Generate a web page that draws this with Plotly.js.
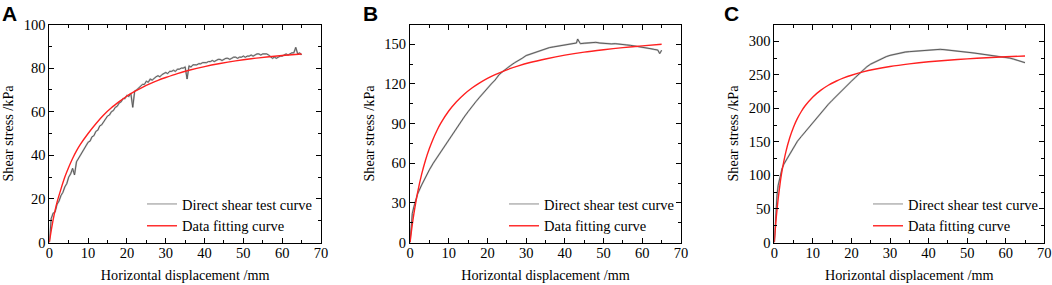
<!DOCTYPE html>
<html>
<head>
<meta charset="utf-8">
<script src="https://cdn.plot.ly/plotly-3.0.1.min.js"></script>
<style>html,body{margin:0;padding:0;background:#fff;}#chart{width:1052px;height:285px;}</style>
</head>
<body>
<div id="chart"></div>
<script>
// ---------- Panel A (test curve) ----------
const xA_test = [0,0.5,1,1.5,2,2.5,3,3.5,4,4.5,5,5.5,6,6.5,7,7.5,8,8.5,9,9.5,10,10.5,11,11.5,12,12.5,13,13.5,14,14.5,15,15.5,16,16.5,17,17.5,18,18.5,19,19.5,20,20.5,21,21.5,22,22.5,23,23.5,24,24.5,25,25.5,26,26.5,27,27.5,28,28.5,29,29.5,30,30.5,31,31.5,32,32.5,33,33.5,34,34.5,35,35.5,36,36.5,37,37.5,38,38.5,39,39.5,40,40.5,41,41.5,42,42.5,43,43.5,44,44.5,45,45.5,46,46.5,47,47.5,48,48.5,49,49.5,50,50.5,51,51.5,52,52.5,53,53.5,54,54.5,55,55.5,56,56.5,57,57.5,58,58.5,59,59.5,60,60.5,61,61.5,62,62.5,63,63.5,64,64.5,65];
const yA_test = [0,11,13.5,14,17.5,19,21.5,23,25.5,27,30,31.5,34,31,37,38.5,40,41.5,43,44,46,46.5,48.5,49,51,51.5,53.5,54,55.5,56.5,58,58.5,60,60.5,62,62.5,64,64.5,66,66,67.5,67,68.5,62,69.5,70,71,71.5,72.5,72.5,74,73.5,75,74.5,75.5,76,76.5,76,77,77.5,78,77.5,78.5,78.5,79,78.5,79.5,79.5,80,80,80.5,75,81,80.5,81.5,81.5,81.5,82,82,82.5,82.5,82.5,83,83,83.5,83,83.5,84,84,83.5,84,84.5,84.5,84,84.5,85,85,84.5,85,85,85.5,85,85.5,85.5,86,85.5,86,86.5,86.5,86,86.5,86.5,86.5,86,85,84.5,85,84.5,85,85.5,85.5,86,86.5,86,86.5,87,87,89.5,86.5,87,86];
// Panel A fitting curve
const xA_fit = [0,0.5,1,2,3,4,5,6,7,8,10,12,14,16,18,20,22,24,26,28,30,33,36,40,44,48,52,56,60,65];
const yA_fit = [0,5.5,10.5,18.5,24.5,30,34.5,38.5,42,45,50,54.5,58.5,61.8,64.6,67.2,69.3,71.2,72.9,74.4,75.7,77.5,79,80.7,82.1,83.3,84.3,85.1,85.8,86.5];

// ---------- Panel B ----------
const xB_test = [0,0.3,0.6,1,1.5,2,3,4,5,6,7,8,9,10,11,12,13,14,15,16,17,18,19,20,21,22,23,24,25,26,27,28,29,30,31,32,33,34,35,36,37,38,39,40,41,42,43,43.3,44,45,46,47,48,49,50,51,52,53,54,55,56,57,58,59,60,61,62,63,64,64.5,65];
const yB_test = [0,15,22,27,32,37,43.5,49.5,55,60,64.5,69,73.5,78,82,86.5,90.5,95,99,103,106.5,110,113.5,117,120,123,127,129.5,132,134,136,137.5,139.5,141.5,142.5,144,145,146,146.5,147.5,148,148.5,149,149.5,150,150.5,151,154,150.5,150.8,151,151.3,151.5,151,150.7,150.5,150.3,150.5,150,149.8,149.5,149.2,148.8,148.3,147.8,147.3,146.8,146.2,145.7,143,145.5];
const xB_fit = [0,0.5,1,2,3,4,5,6,7,8,10,12,14,16,18,20,22,25,28,31,35,40,45,50,55,60,65];
const yB_fit = [0,11.6,21.7,38.4,51.6,62.3,71.1,78.6,85,90.5,99.5,106.5,112.2,116.9,120.8,124.2,127,130.7,133.7,136.2,138.9,141.8,144.1,145.9,147.5,148.8,150];

// ---------- Panel C ----------
const xC_test = [0,0.2,0.4,0.7,1,1.5,2,2.5,3,4,5,6,7,8,9,10,11,12,13,14,15,16,17,18,19,20,21,22,23,24,25,26,27,28,29,30,31,32,33,34,35,36,37,38,39,40,41,42,43,44,45,46,47,48,49,50,51,52,53,54,55,56,57,58,59,60,61,62,63,64,65];
const yC_test = [0,25,50,70,85,100,110,117,122,133,143,151,158,165,172,179,186,193,200,206,212,218,224,229.5,235,240.5,246,251.5,257,262,266,269,272,274.5,277,279,280.5,282,283,284,284.5,285,285.5,286.5,287,287.5,288,288,288,287.5,287,286.5,286,285.5,285,284,283,282.3,281.5,281,280.5,280,279.2,278.3,277.2,276,275,273.5,272,270,268];
const xC_fit = [0,0.25,0.5,1,1.5,2,3,4,5,6,7,8,10,12,14,16,18,20,23,26,30,35,40,45,50,55,60,65];
const yC_fit = [0,19.5,36.6,65.1,87.9,106.6,135.2,156.2,172.3,185,195.3,203.8,217,226.8,234.4,240.4,245.3,249.3,254.3,258.2,262.4,266.3,269.4,271.8,273.8,275.5,276.9,278];

// ---------- Text ----------
const panelLabels = ['A','B','C'];
const xTitle = 'Horizontal displacement /mm';
const yTitle = 'Shear stress /kPa';
const legendNames = ['Direct shear test curve','Data fitting curve'];
const yRanges = [[0,100],[0,165],[0,325]];
const yDticks = [20,30,50];

const SERIF = 'Liberation Serif';
const SANS = 'Liberation Sans';
const panels = [
  {xt:xA_test, yt:yA_test, xf:xA_fit, yf:yA_fit},
  {xt:xB_test, yt:yB_test, xf:xB_fit, yf:yB_fit},
  {xt:xC_test, yt:yC_test, xf:xC_fit, yf:yC_fit}
];
const W = 1052, H = 285;
const xDomPx = [[49.3,321],[410,681],[774.3,1044.3]];
const yDom = [(H-242.5)/H, (H-24.5)/H];
const legendLeftPx = [142, 504, 868];
const legendTopPx = 188;

const traces = [];
const layout = {
  width: W, height: H,
  margin: {l:0, r:0, t:0, b:0},
  paper_bgcolor: '#fff', plot_bgcolor: '#fff',
  font: {family: SERIF, size: 14.5, color: '#000'},
  showlegend: true,
  annotations: []
};

panels.forEach((p, i) => {
  const n = i === 0 ? '' : String(i+1);
  const xa = 'x' + n, ya = 'y' + n;
  const lg = 'legend' + n;
  traces.push({x:p.xt, y:p.yt, xaxis:xa, yaxis:ya, type:'scatter', mode:'lines',
    name: legendNames[0], legend: lg, line:{color:'#c0c0c0', width:1.8}, hoverinfo:'skip'});
  traces.push({x:p.xt, y:p.yt, xaxis:xa, yaxis:ya, type:'scatter', mode:'lines',
    name: legendNames[0], legend: lg, showlegend:false, line:{color:'#505050', width:0.9}, hoverinfo:'skip'});
  traces.push({x:p.xf, y:p.yf, xaxis:xa, yaxis:ya, type:'scatter', mode:'lines',
    name: legendNames[1], legend: lg, line:{color:'#ff2020', width:1.4, shape:'spline', smoothing:0.6}, hoverinfo:'skip'});

  const common = {
    showline:true, linecolor:'#000', linewidth:1, mirror:'allticks',
    ticks:'inside', ticklen:5, tickwidth:1, tickcolor:'#000',
    showgrid:false, zeroline:false,
    tickfont:{family:SERIF, size:14.5, color:'#000'}
  };
  layout['xaxis' + n] = Object.assign({}, common, {
    domain:[xDomPx[i][0]/W, xDomPx[i][1]/W], anchor: ya,
    range:[0,70], tick0:0, dtick:10, ticklabelstandoff:-3,
    minor:{ticks:'inside', ticklen:3, dtick:5, tick0:0, tickcolor:'#000', showgrid:false},
    title:{text:xTitle, font:{family:SERIF, size:14.2, color:'#000'}, standoff: 10}
  });
  layout['yaxis' + n] = Object.assign({}, common, {
    domain: yDom, anchor: xa,
    range: yRanges[i], tick0:0, dtick: yDticks[i],
    minor:{ticks:'inside', ticklen:3, dtick: yDticks[i]/2, tick0:0, tickcolor:'#000', showgrid:false},
    title:{text:yTitle, font:{family:SERIF, size:14.2, color:'#000'}, standoff: 6}
  });
  layout[lg] = {
    x: legendLeftPx[i]/W, y: (H-legendTopPx)/H, xanchor:'left', yanchor:'top',
    xref:'paper', yref:'paper',
    bgcolor:'rgba(0,0,0,0)', borderwidth:0,
    font:{family:SERIF, size:14.5, color:'#000'},
    tracegroupgap:0, itemwidth:30
  };
  layout.annotations.push({
    text: '<b>' + panelLabels[i] + '</b>', xref:'paper', yref:'paper',
    x: [0, 361, 722][i]/W, y: 1, xanchor:'left', yanchor:'top', showarrow:false,
    font:{family:SANS, size:21, color:'#000'}
  });
});

Plotly.newPlot('chart', traces, layout, {displayModeBar:false, staticPlot:true});
</script>
</body>
</html>
